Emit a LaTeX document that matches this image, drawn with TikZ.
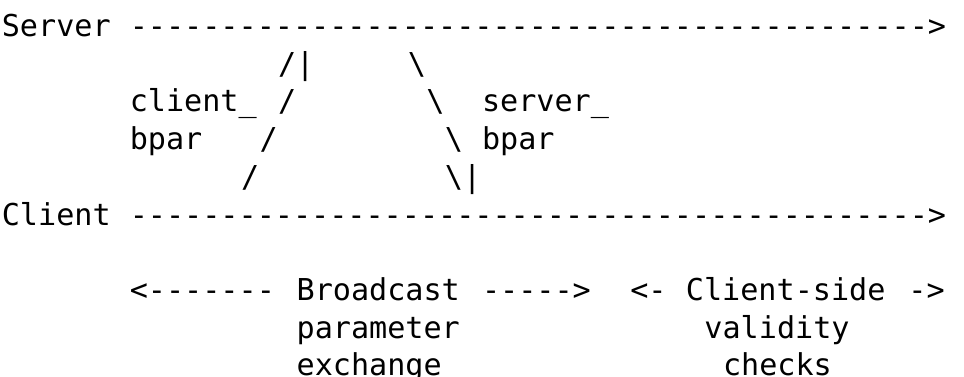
\documentclass[tikz,border=0pt]{standalone}
\usepackage{fontspec}
\setmonofont{DejaVu Sans Mono}
\newcommand\dashrun[1]{\foreach\i in {1,...,#1}{-}}
\begin{document}
\begin{tikzpicture}[x=13.904pt,y=-28.275pt,
  txt/.style={anchor=base west,inner sep=0pt,outer sep=0pt,font=\ttfamily\fontsize{22.6}{28}\selectfont}]
\useasboundingbox (0,.03) rectangle (52,10.03);
\node[txt] (server) at (0.1,1) {Server};
\node[txt] (srvline) at (7,1) {\dashrun{44}>};
\node[txt] (cbhead) at (15,2) {/|};
\node[txt] (sbtop) at (22,2) {\textbackslash};
\node[txt] (cblabel) at (7,3) {client\_};
\node[txt] (cbmid) at (15,3) {/};
\node[txt] (sbmid) at (23,3) {\textbackslash};
\node[txt] (sblabel) at (26,3) {server\_};
\node[txt] (cbpar) at (7,4) {bpar};
\node[txt] (cblow) at (14,4) {/};
\node[txt] (sblow) at (24,4) {\textbackslash};
\node[txt] (sbpar) at (26,4) {bpar};
\node[txt] (cbtail) at (13,5) {/};
\node[txt] (sbhead) at (24,5) {\textbackslash|};
\node[txt] (client) at (0.1,6) {Client};
\node[txt] (cltline) at (7,6) {\dashrun{44}>};
\node[txt] (bcleft) at (7,8) {<\dashrun{7}};
\node[txt] (bcast) at (16,8) {Broadcast};
\node[txt] (bcright) at (26,8) {\dashrun{5}>};
\node[txt] (csleft) at (34,8) {<-};
\node[txt] (cside) at (37,8) {Client-side};
\node[txt] (csright) at (49,8) {->};
\node[txt] (param) at (16,9) {parameter};
\node[txt] (valid) at (38,9) {validity};
\node[txt] (exch) at (16,10) {exchange};
\node[txt] (checks) at (39,10) {checks};
\end{tikzpicture}
\end{document}
